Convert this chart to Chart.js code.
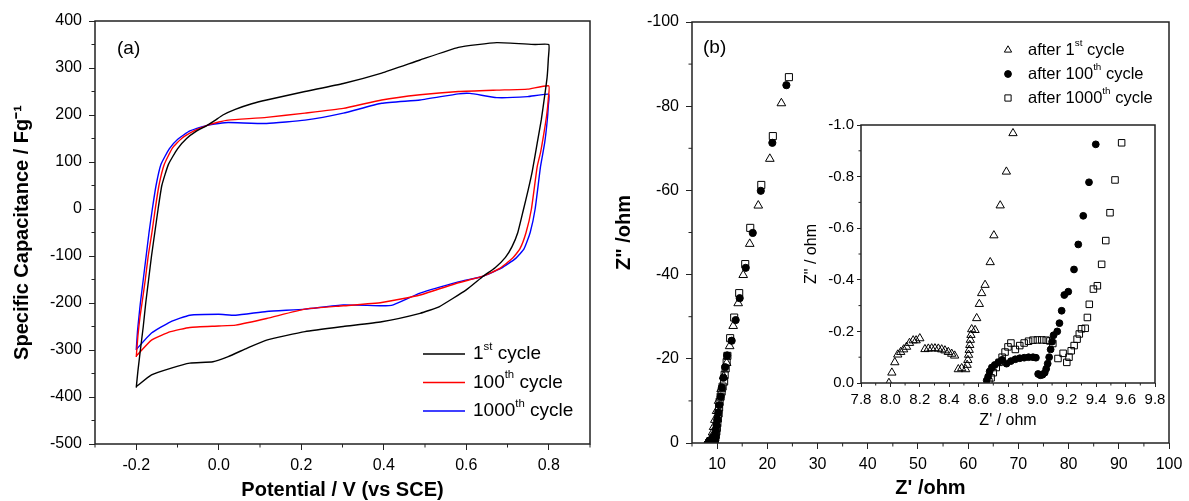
<!DOCTYPE html>
<html>
<head>
<meta charset="utf-8">
<title>CV and EIS cycling</title>
<script src="https://cdn.jsdelivr.net/npm/chart.js@4.4.0/dist/chart.umd.min.js"></script>
<style>
  html, body { margin: 0; padding: 0; background: #fff; }
  body { width: 1189px; height: 501px; position: relative; overflow: hidden; }
  .box { position: absolute; }
  #boxA { left: 0; top: 0; width: 600px; height: 501px; }
  #boxB { left: 600px; top: 0; width: 589px; height: 501px; }
  #boxC { left: 795px; top: 112px; width: 370px; height: 330px; }
</style>
</head>
<body>
<div class="box" id="boxA"><canvas id="cvChart"></canvas></div>
<div class="box" id="boxB"><canvas id="eisChart"></canvas></div>
<div class="box" id="boxC"><canvas id="insetChart"></canvas></div>
<script>
// ---- (a) cyclic voltammetry: [potential V, capacitance F/g], anodic branch then cathodic ----
const cvLabels = ["1st cycle", "100th cycle", "1000th cycle"];
const cvColors = ["#000000", "#ff0000", "#0000ff"];

const cv1st = [
  [-0.2,-380],[-0.196,-345],[-0.19,-300],[-0.183,-250],[-0.177,-200],[-0.17,-150],[-0.163,-100],
  [-0.155,-50],[-0.147,0],[-0.138,50],[-0.122,95],[-0.1,128],[-0.078,150],[-0.055,165],
  [-0.03,177],[-0.01,188],[0.01,200],[0.04,212],[0.08,224],[0.116,232],[0.209,250],[0.302,267],
  [0.395,289],[0.488,317],[0.581,344],[0.674,354],[0.767,350],[0.8,350],[0.799,320],[0.796,280],
  [0.79,240],[0.782,190],[0.772,140],[0.76,80],[0.75,40],[0.739,0],[0.725,-50],[0.711,-80],
  [0.695,-103],[0.67,-125],[0.641,-143],[0.6,-172],[0.534,-208],[0.488,-222],[0.395,-240],
  [0.302,-250],[0.209,-261],[0.116,-279],[0.069,-296],[0.023,-314],[-0.014,-325],[-0.07,-328],
  [-0.117,-339],[-0.163,-353],[-0.2,-378]
];
const cv100th = [
  [-0.2,-315],[-0.196,-270],[-0.191,-230],[-0.186,-200],[-0.178,-150],[-0.171,-100],[-0.162,-50],
  [-0.154,0],[-0.145,50],[-0.132,95],[-0.112,130],[-0.09,150],[-0.06,166],[-0.028,178],[0.0,185],
  [0.023,189],[0.116,195],[0.209,204],[0.302,214],[0.395,232],[0.488,243],[0.581,250],
  [0.674,253],[0.749,255],[0.8,262],[0.799,235],[0.795,200],[0.788,160],[0.78,120],[0.772,90],
  [0.758,0],[0.745,-50],[0.73,-85],[0.712,-105],[0.68,-127],[0.641,-143],[0.581,-157],
  [0.488,-183],[0.395,-199],[0.302,-206],[0.209,-213],[0.116,-233],[0.041,-247],[0.0,-249],
  [-0.07,-252],[-0.117,-261],[-0.163,-279],[-0.2,-313]
];
const cv1000th = [
  [-0.2,-300],[-0.197,-260],[-0.193,-225],[-0.19,-200],[-0.183,-150],[-0.176,-100],[-0.169,-50],
  [-0.161,0],[-0.152,50],[-0.14,95],[-0.12,128],[-0.1,148],[-0.07,166],[-0.028,178],[0.0,182],
  [0.023,184],[0.116,182],[0.209,189],[0.302,204],[0.395,225],[0.488,232],[0.581,245],
  [0.609,246],[0.674,237],[0.749,239],[0.8,244],[0.799,220],[0.796,185],[0.79,140],[0.78,90],
  [0.767,0],[0.755,-50],[0.74,-85],[0.72,-105],[0.685,-126],[0.641,-143],[0.581,-155],
  [0.488,-179],[0.423,-204],[0.395,-206],[0.302,-204],[0.209,-213],[0.116,-218],[0.041,-226],
  [0.0,-224],[-0.07,-226],[-0.117,-240],[-0.163,-264],[-0.2,-299]
];
const cvTicksX = [-0.2, 0, 0.2, 0.4, 0.6, 0.8];
const cvTicksY = [-500, -400, -300, -200, -100, 0, 100, 200, 300, 400];

// ---- (b) Nyquist plot: [Z' ohm, Z'' ohm] ----
const eisLabels = ["after 1st cycle", "after 100th cycle", "after 1000th cycle"];
const eisStyles = ["triangle", "circle", "rect"];

// high-frequency part (shown in the inset)
const eisInset1st = [
  [7.99,0],[8.01,-0.04],[8.03,-0.08],[8.05,-0.11],[8.07,-0.12],[8.09,-0.13],[8.11,-0.14],
  [8.13,-0.155],[8.155,-0.165],[8.175,-0.165],[8.2,-0.173],[8.235,-0.131],[8.258,-0.133],
  [8.281,-0.134],[8.303,-0.134],[8.326,-0.133],[8.349,-0.13],[8.371,-0.126],[8.394,-0.12],
  [8.417,-0.113],[8.437,-0.106],[8.462,-0.053],[8.485,-0.057],[8.512,-0.053],[8.522,-0.07],
  [8.527,-0.089],[8.532,-0.109],[8.536,-0.128],[8.54,-0.147],[8.544,-0.167],[8.548,-0.186],
  [8.553,-0.208],[8.576,-0.205],[8.587,-0.251],[8.605,-0.306],[8.621,-0.348],[8.644,-0.38],
  [8.679,-0.468],[8.704,-0.572],[8.747,-0.688],[8.789,-0.819],[8.834,-0.968]
];
const eisInset100th = [
  [8.655,-0.01],[8.665,-0.025],[8.675,-0.045],[8.69,-0.06],[8.71,-0.07],[8.735,-0.08],
  [8.76,-0.09],[8.79,-0.075],[8.82,-0.085],[8.85,-0.092],[8.88,-0.096],[8.91,-0.098],
  [8.94,-0.1],[8.97,-0.1],[8.99,-0.098],[9.005,-0.035],[9.02,-0.03],[9.035,-0.032],
  [9.05,-0.04],[9.06,-0.055],[9.07,-0.075],[9.08,-0.1],[9.09,-0.13],[9.1,-0.16],[9.11,-0.185],
  [9.135,-0.2],[9.15,-0.232],[9.165,-0.28],[9.183,-0.341],[9.21,-0.354],[9.249,-0.44],
  [9.278,-0.537],[9.312,-0.648],[9.351,-0.778],[9.397,-0.925]
];
const eisInset1000th = [
  [8.67,-0.005],[8.685,-0.02],[8.7,-0.04],[8.72,-0.06],[8.74,-0.08],[8.76,-0.1],[8.78,-0.12],
  [8.8,-0.14],[8.82,-0.155],[8.85,-0.13],[8.88,-0.145],[8.91,-0.155],[8.94,-0.162],
  [8.97,-0.166],[9.0,-0.167],[9.03,-0.167],[9.06,-0.166],[9.085,-0.163],[9.105,-0.153],
  [9.14,-0.095],[9.175,-0.115],[9.2,-0.08],[9.215,-0.1],[9.23,-0.125],[9.25,-0.145],
  [9.27,-0.17],[9.285,-0.19],[9.3,-0.21],[9.325,-0.212],[9.34,-0.254],[9.353,-0.305],
  [9.381,-0.364],[9.408,-0.377],[9.437,-0.46],[9.465,-0.552],[9.494,-0.66],[9.528,-0.787],
  [9.573,-0.931]
];
// low-frequency tail (main plot only)
const eisTail1st = [
  [8.95,-1.5],[9.1,-2.5],[9.3,-3.8],[9.55,-5.5],[9.9,-7.6],[10.3,-10],[10.8,-12.8],
  [11.3,-15.8],[11.9,-19.0],[12.5,-23.0],[13.2,-27.8],[14.2,-33.2],[15.2,-39.9],[16.5,-47.3],
  [18.2,-56.4],[20.5,-67.5],[22.8,-80.7]
];
const eisTail100th = [
  [9.5,-1.3],[9.6,-2.0],[9.75,-3.0],[9.9,-4.2],[10.05,-5.6],[10.25,-7.2],[10.45,-9.0],
  [10.7,-11.0],[10.95,-13.2],[11.25,-15.5],[11.6,-18.0],[12.0,-20.8],[12.9,-24.3],[13.7,-29.2],
  [14.5,-34.4],[15.7,-41.6],[17.1,-49.9],[18.7,-59.9],[21.0,-71.3],[23.8,-85.0]
];
const eisTail1000th = [
  [9.65,-1.3],[9.75,-1.9],[9.85,-2.7],[9.95,-3.6],[10.05,-4.7],[10.15,-5.8],[10.3,-7.0],
  [10.4,-8.4],[10.5,-9.8],[10.7,-11.0],[10.9,-12.2],[11.1,-13.4],[11.4,-14.6],[11.5,-16.2],
  [11.7,-17.7],[11.9,-19.2],[12.05,-20.7],[12.6,-24.9],[13.4,-29.8],[14.4,-35.6],[15.6,-42.5],
  [16.6,-51.1],[18.8,-61.3],[21.1,-72.9],[24.3,-86.9]
];
const eisTicksX = [10, 20, 30, 40, 50, 60, 70, 80, 90, 100];
const eisTicksY = [-100, -80, -60, -40, -20, 0];
const insetTicksX = [7.8, 8.0, 8.2, 8.4, 8.6, 8.8, 9.0, 9.2, 9.4, 9.6, 9.8];
const insetTicksY = [-1.0, -0.8, -0.6, -0.4, -0.2, 0.0];

const FONT = '"Liberation Sans", Arial, sans-serif';
Chart.defaults.font.family = FONT;
Chart.defaults.color = "#000";

const toXY = arr => arr.map(([x, y]) => ({ x, y }));

// --- plugins ---
const frame = {
  id: "frame",
  afterDraw(chart) {
    const { ctx, chartArea: a } = chart;
    ctx.save();
    ctx.strokeStyle = "#222";
    ctx.lineWidth = 1.5;
    ctx.strokeRect(a.left, a.top, a.right - a.left, a.bottom - a.top);
    ctx.restore();
  },
};

const minorTicks = {
  id: "minorTicks",
  afterDraw(chart, args, opts) {
    const { ctx, chartArea: a } = chart;
    ctx.save();
    ctx.strokeStyle = "#222";
    ctx.lineWidth = 1;
    for (const id of Object.keys(opts.steps || {})) {
      const scale = chart.scales[id];
      const step = opts.steps[id];
      const major = scale.ticks.map(t => t.value);
      const n = Math.round((scale.max - scale.min) / step);
      for (let i = 0; i <= n; i++) {
        const v = scale.min + i * step;
        if (major.some(m => Math.abs(m - v) < step / 10)) continue;
        const p = scale.getPixelForValue(v);
        ctx.beginPath();
        if (scale.isHorizontal()) {
          ctx.moveTo(p, a.bottom);
          ctx.lineTo(p, a.bottom + opts.len);
        } else {
          ctx.moveTo(a.left, p);
          ctx.lineTo(a.left - opts.len, p);
        }
        ctx.stroke();
      }
    }
    ctx.restore();
  },
};

// "1st" -> "1" + superscript "st"
function drawSupText(ctx, label, x, y, size) {
  const m = label.match(/^(.*?\d+)(st|nd|rd|th)(.*)$/);
  const parts = m ? [[m[1], false], [m[2], true], [m[3], false]] : [[label, false]];
  let cx = x;
  for (const [txt, sup] of parts) {
    ctx.font = (sup ? size * 0.6 : size) + "px " + FONT;
    ctx.fillText(txt, cx, sup ? y - size * 0.38 : y);
    cx += ctx.measureText(txt).width;
  }
}

const legendBox = {
  id: "legendBox",
  afterDraw(chart, args, o) {
    const ctx = chart.ctx;
    ctx.save();
    ctx.textBaseline = "middle";
    ctx.fillStyle = "#000";
    chart.data.datasets.forEach((ds, i) => {
      const y = o.y + i * o.dy;
      if (o.kind === "line") {
        ctx.strokeStyle = ds.borderColor;
        ctx.lineWidth = 1.5;
        ctx.beginPath();
        ctx.moveTo(o.x, y);
        ctx.lineTo(o.x + o.lineLen, y);
        ctx.stroke();
        ctx.fillStyle = "#000";
        drawSupText(ctx, ds.label, o.x + o.lineLen + o.gap, y, o.size);
      } else {
        ctx.strokeStyle = "#000";
        ctx.fillStyle = ds.pointBackgroundColor;
        Chart.helpers.drawPoint(ctx, {
          pointStyle: ds.pointStyle, radius: o.radius[i], rotation: 0, borderWidth: 1,
        }, o.x, y);
        ctx.fillStyle = "#000";
        drawSupText(ctx, ds.label, o.x + o.gap, y, o.size);
      }
    });
    ctx.restore();
  },
};

const panelLabel = {
  id: "panelLabel",
  afterDraw(chart, args, o) {
    if (!o.text) return;
    const ctx = chart.ctx;
    ctx.save();
    ctx.font = o.size + "px " + FONT;
    ctx.fillStyle = "#000";
    ctx.textBaseline = "middle";
    ctx.fillText(o.text, o.x, o.y);
    ctx.restore();
  },
};

function fixedAxis(size) {
  return scale => {
    if (scale.isHorizontal()) scale.height = size; else scale.width = size;
    scale.paddingTop = scale.paddingBottom = scale.paddingLeft = scale.paddingRight = 0;
  };
}

function axis(o) {
  return {
    type: "linear",
    position: o.position,
    min: o.min,
    max: o.max,
    reverse: !!o.reverse,
    afterBuildTicks: s => { s.ticks = o.ticks.map(v => ({ value: v })); },
    afterFit: fixedAxis(o.size),
    grid: { drawOnChartArea: false, drawTicks: true, tickLength: o.tickLen, color: "#222", lineWidth: 1 },
    border: { display: false },
    ticks: { font: { size: o.font }, padding: o.pad, color: "#000", maxRotation: 0, autoSkip: false,
             callback: o.fmt },
    title: { display: true, text: o.title, font: { size: o.titleSize, weight: o.bold ? "bold" : "normal", lineHeight: 1 },
             padding: o.titlePad, color: "#000" },
  };
}

// --- (a) ---
new Chart(document.getElementById("cvChart"), {
  type: "scatter",
  data: {
    datasets: [cv1st, cv100th, cv1000th].map((d, i) => ({
      label: cvLabels[i],
      data: toXY(d),
      showLine: true,
      borderColor: cvColors[i],
      backgroundColor: cvColors[i],
      borderWidth: 1.4,
      pointRadius: 0,
      tension: 0.15,
    })),
  },
  options: {
    responsive: true,
    maintainAspectRatio: false,
    animation: false,
    events: [],
    layout: { padding: { top: 21, right: 10, left: 0, bottom: 0 } },
    scales: {
      x: axis({ position: "bottom", min: -0.3, max: 0.9, ticks: cvTicksX, size: 57, tickLen: 6, font: 16, pad: 6,
                fmt: v => v.toFixed(1), title: "Potential / V (vs SCE)", titleSize: 20, bold: true,
                titlePad: { top: 0, bottom: 1 } }),
      y: axis({ position: "left", min: -500, max: 400, ticks: cvTicksY, size: 95, tickLen: 6, font: 16, pad: 7,
                fmt: v => String(v), title: "Specific Capacitance / Fg\u207B\u00B9", titleSize: 20, bold: true,
                titlePad: { top: 12, bottom: 0 } }),
    },
    plugins: {
      legend: { display: false },
      tooltip: { enabled: false },
      minorTicks: { steps: { x: 0.1, y: 50 }, len: 3.5 },
      legendBox: { kind: "line", x: 423, y: 354, dy: 28.5, lineLen: 42, gap: 8, size: 19 },
      panelLabel: { text: "(a)", x: 117, y: 49, size: 19 },
    },
  },
  plugins: [frame, minorTicks, legendBox, panelLabel],
});

// --- (b) ---
const mainSets = [
  eisInset1st.concat(eisTail1st),
  eisInset100th.concat(eisTail100th),
  eisInset1000th.concat(eisTail1000th),
];
const mainRadius = [5, 3.6, 5];
const fills = ["rgba(0,0,0,0)", "#000", "rgba(0,0,0,0)"];

new Chart(document.getElementById("eisChart"), {
  type: "scatter",
  data: {
    datasets: mainSets.map((d, i) => ({
      label: eisLabels[i],
      data: toXY(d),
      pointStyle: eisStyles[i],
      pointRadius: mainRadius[i],
      pointBorderColor: "#000",
      pointBackgroundColor: fills[i],
      pointBorderWidth: 1,
    })),
  },
  options: {
    responsive: true,
    maintainAspectRatio: false,
    animation: false,
    events: [],
    layout: { padding: { top: 22, right: 20, left: 0, bottom: 0 } },
    scales: {
      x: axis({ position: "bottom", min: 5, max: 100, ticks: eisTicksX, size: 58, tickLen: 6, font: 16, pad: 6,
                fmt: v => String(v), title: "Z' /ohm", titleSize: 20, bold: true,
                titlePad: { top: 0, bottom: 3 } }),
      y: axis({ position: "left", min: -100, max: 0, reverse: true, ticks: eisTicksY, size: 92, tickLen: 6, font: 16,
                pad: 7, fmt: v => String(v), title: 'Z" /ohm', titleSize: 20, bold: true,
                titlePad: { top: 14, bottom: 0 } }),
    },
    plugins: {
      legend: { display: false },
      tooltip: { enabled: false },
      minorTicks: { steps: { x: 5, y: 10 }, len: 3.5 },
      legendBox: { kind: "marker", x: 408, y: 50, dy: 24, gap: 20, size: 16.5, radius: [4.2, 3.4, 4.4] },
      panelLabel: { text: "(b)", x: 103, y: 48, size: 19 },
    },
  },
  plugins: [frame, minorTicks, legendBox, panelLabel],
});

// --- (b) inset ---
const insetSets = [eisInset1st, eisInset100th, eisInset1000th];
const insetRadius = [4.8, 3.4, 4.6];

new Chart(document.getElementById("insetChart"), {
  type: "scatter",
  data: {
    datasets: insetSets.map((d, i) => ({
      label: eisLabels[i],
      data: toXY(d),
      pointStyle: eisStyles[i],
      pointRadius: insetRadius[i],
      pointBorderColor: "#000",
      pointBackgroundColor: fills[i],
      pointBorderWidth: 1,
    })),
  },
  options: {
    responsive: true,
    maintainAspectRatio: false,
    animation: false,
    events: [],
    layout: { padding: { top: 13, right: 10, left: 0, bottom: 0 } },
    scales: {
      x: axis({ position: "bottom", min: 7.8, max: 9.8, ticks: insetTicksX, size: 59, tickLen: 4, font: 15, pad: 4,
                fmt: v => v.toFixed(1), title: "Z' / ohm", titleSize: 16, bold: false,
                titlePad: { top: 0, bottom: 13 } }),
      y: axis({ position: "left", min: -1, max: 0, reverse: true, ticks: insetTicksY, size: 66, tickLen: 4, font: 15,
                pad: 3, fmt: v => v.toFixed(1), title: 'Z" / ohm', titleSize: 16, bold: false,
                titlePad: { top: 9, bottom: 0 } }),
    },
    plugins: {
      legend: { display: false },
      tooltip: { enabled: false },
      minorTicks: { steps: { x: 0.1, y: 0.1 }, len: 2.5 },
    },
  },
  plugins: [frame, minorTicks],
});
</script>
</body>
</html>
